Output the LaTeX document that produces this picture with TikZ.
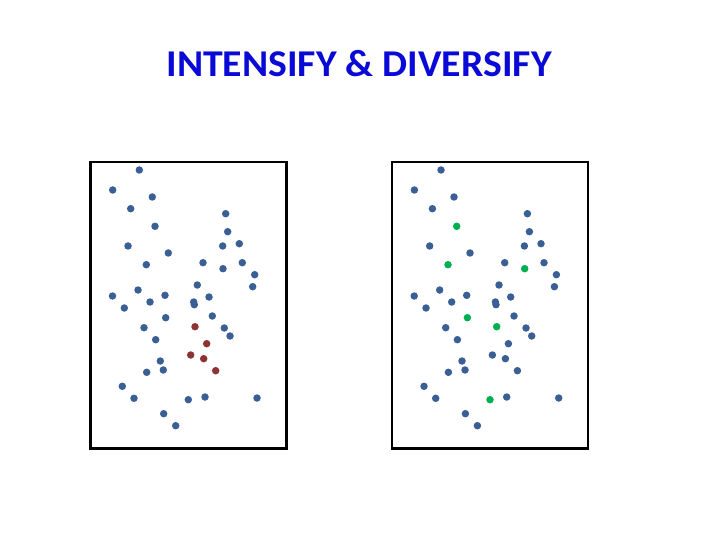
\documentclass[tikz,border=0pt]{standalone}
\usepackage{fontspec}
\newfontfamily\titlefont{Carlito}
\usepackage{tikz}
\usetikzlibrary{calc}

\definecolor{dotblue}{RGB}{58,95,148}
\definecolor{dotred}{RGB}{140,52,50}
\definecolor{dotgreen}{RGB}{0,176,80}
\definecolor{titleblue}{RGB}{10,10,215}

\tikzset{
	dot/.style={circle,inner sep=0pt,minimum size=7.5bp},
	frame/.style={draw=black,line width=2.8bp},
}

\begin{document}
\begin{tikzpicture}[x=1bp,y=-1bp]
			\useasboundingbox (0,0) rectangle (720,540);
			
			\node[anchor=base,inner sep=0pt] (title) at (359,76.5) {\titlefont\bfseries\fontsize{38}{44}\selectfont\color{titleblue}\scalebox{1.05}[1]{INTENSIFY \& DIVERSIFY}};
			
			%panels
			\draw[frame] (90.5,162) rectangle (286.5,448.5);
			\draw[frame] (392,162) rectangle (588,448.5);
			
			%points: x/y/left colour/right colour
			\foreach \x/\y/\lc/\rc [count=\i] in {
				139.3/170/dotblue/dotblue, 112.7/190/dotblue/dotblue, 152.3/197/dotblue/dotblue,
				130.7/208.7/dotblue/dotblue, 225.7/213.7/dotblue/dotblue, 155/226.3/dotblue/dotgreen,
				227.7/231.7/dotblue/dotblue, 128/246/dotblue/dotblue, 222.7/246/dotblue/dotblue,
				239.3/243.7/dotblue/dotblue, 168.3/253/dotblue/dotblue, 146.3/264.7/dotblue/dotgreen,
				203/262.7/dotblue/dotblue, 223/268.7/dotblue/dotgreen, 242.3/262.7/dotblue/dotblue,
				254.7/274.7/dotblue/dotblue, 252.7/286.7/dotblue/dotblue, 197.3/285/dotblue/dotblue,
				138/290/dotblue/dotblue, 112.5/296/dotblue/dotblue, 165/295.3/dotblue/dotblue,
				150/302/dotblue/dotblue, 209/297/dotblue/dotblue, 193.7/302/dotblue/dotblue,
				194.3/304.7/dotblue/dotblue, 124.3/308/dotblue/dotblue, 165.7/317.7/dotblue/dotgreen,
				212.3/316/dotblue/dotblue, 144/327.7/dotblue/dotblue, 224.3/328/dotblue/dotblue,
				230/336/dotblue/dotblue, 155.7/339.7/dotblue/dotblue, 160.3/361/dotblue/dotblue,
				163.3/370/dotblue/dotblue, 146.7/372.3/dotblue/dotblue, 122.3/386.3/dotblue/dotblue,
				134/398.3/dotblue/dotblue, 188.3/399.7/dotblue/dotgreen, 205/397/dotblue/dotblue,
				257/398/dotblue/dotblue, 163.7/413.7/dotblue/dotblue, 175.7/425.7/dotblue/dotblue,
				195/326.7/dotred/dotgreen, 206.7/343.7/dotred/dotblue, 190.7/355/dotred/dotblue,
				203.7/358.7/dotred/dotblue, 215.7/370.7/dotred/dotblue}
			{
				\node[dot,fill=\lc] (l\i) at (\x,\y) {};
				\node[dot,fill=\rc] (r\i) at ($(\x,\y)+(301.7,0)$) {};
			}
		\end{tikzpicture}
\end{document}
